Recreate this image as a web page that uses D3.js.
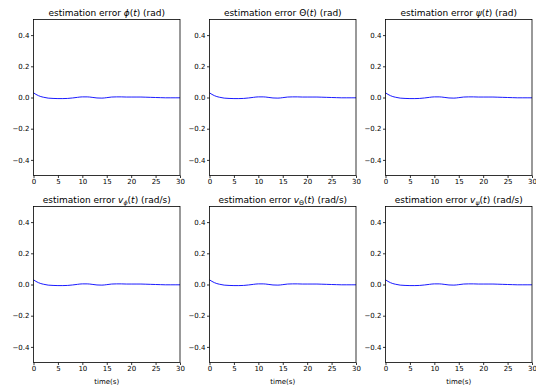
<!DOCTYPE html>
<html>
<head>
<meta charset="utf-8">
<script src="https://cdn.jsdelivr.net/npm/d3@7"></script>
<style>
body { margin: 0; background: #fff; }
text { font-family: "DejaVu Sans", sans-serif; fill: #000; }
</style>
</head>
<body>
<div id="chart"></div>
<script>
var svgWidth = 536;
var svgHeight = 388;

// sample times (s) and the estimation error
var times = [0, 0.5, 1, 1.5, 2, 3, 4, 5, 6, 7, 8, 9, 10, 11, 12, 13, 14, 15, 16, 17, 18, 19, 20, 21, 22, 23, 24, 25, 26, 27, 28, 29, 30];
var errPhi   = [0.030, 0.020, 0.012, 0.006, 0.002, -0.004, -0.006, -0.007, -0.007, -0.006, -0.003, 0.001, 0.004, 0.004, 0.001, -0.003, -0.004, -0.001, 0.003, 0.004, 0.004, 0.003, 0.003, 0.003, 0.003, 0.002, 0.001, 0.000, -0.001, -0.002, -0.002, -0.002, -0.002];
var errTheta = [0.030, 0.020, 0.012, 0.006, 0.002, -0.004, -0.006, -0.007, -0.007, -0.006, -0.003, 0.001, 0.004, 0.004, 0.001, -0.003, -0.004, -0.001, 0.003, 0.004, 0.004, 0.003, 0.003, 0.003, 0.003, 0.002, 0.001, 0.000, -0.001, -0.002, -0.002, -0.002, -0.002];
var errPsi   = [0.030, 0.020, 0.012, 0.006, 0.002, -0.004, -0.006, -0.007, -0.007, -0.006, -0.003, 0.001, 0.004, 0.004, 0.001, -0.003, -0.004, -0.001, 0.003, 0.004, 0.004, 0.003, 0.003, 0.003, 0.003, 0.002, 0.001, 0.000, -0.001, -0.002, -0.002, -0.002, -0.002];
var errVPhi   = [0.030, 0.020, 0.012, 0.006, 0.002, -0.004, -0.006, -0.007, -0.007, -0.006, -0.003, 0.001, 0.004, 0.004, 0.001, -0.003, -0.004, -0.001, 0.003, 0.004, 0.004, 0.003, 0.003, 0.003, 0.003, 0.002, 0.001, 0.000, -0.001, -0.002, -0.002, -0.002, -0.002];
var errVTheta = [0.030, 0.020, 0.012, 0.006, 0.002, -0.004, -0.006, -0.007, -0.007, -0.006, -0.003, 0.001, 0.004, 0.004, 0.001, -0.003, -0.004, -0.001, 0.003, 0.004, 0.004, 0.003, 0.003, 0.003, 0.003, 0.002, 0.001, 0.000, -0.001, -0.002, -0.002, -0.002, -0.002];
var errVPsi   = [0.030, 0.020, 0.012, 0.006, 0.002, -0.004, -0.006, -0.007, -0.007, -0.006, -0.003, 0.001, 0.004, 0.004, 0.001, -0.003, -0.004, -0.001, 0.003, 0.004, 0.004, 0.003, 0.003, 0.003, 0.003, 0.002, 0.001, 0.000, -0.001, -0.002, -0.002, -0.002, -0.002];

var xTicks = [0, 5, 10, 15, 20, 25, 30];
var yTicks = [-0.4, -0.2, 0.0, 0.2, 0.4];

// title parts: [text, italic, subscript]
var panels = [
    { values: errPhi,   title: [["estimation error ", 0, 0], ["ϕ", 1, 0], ["(", 0, 0], ["t", 1, 0], [") (rad)", 0, 0]] },
    { values: errTheta, title: [["estimation error Θ(", 0, 0], ["t", 1, 0], [") (rad)", 0, 0]] },
    { values: errPsi,   title: [["estimation error ", 0, 0], ["ψ", 1, 0], ["(", 0, 0], ["t", 1, 0], [") (rad)", 0, 0]] },
    { values: errVPhi,   title: [["estimation error ", 0, 0], ["v", 1, 0], ["ϕ", 1, 1], ["(", 0, 0], ["t", 1, 0], [") (rad/s)", 0, 0]] },
    { values: errVTheta, title: [["estimation error ", 0, 0], ["v", 1, 0], ["Θ", 0, 1], ["(", 0, 0], ["t", 1, 0], [") (rad/s)", 0, 0]] },
    { values: errVPsi,   title: [["estimation error ", 0, 0], ["v", 1, 0], ["ψ", 1, 1], ["(", 0, 0], ["t", 1, 0], [") (rad/s)", 0, 0]] }
];

var colLeft = [33.5, 209.5, 385.5];
var rowTop = [19.5, 206.5];
var plotW = 146.5;
var plotH = 156;

var svg = d3.select("#chart")
    .append("svg")
    .attr("width", svgWidth)
    .attr("height", svgHeight);

var fmt = function(d) { return d3.format(".1f")(d).replace("-", "\u2212"); };

panels.forEach(function(p, i) {
    var col = i % 3, row = Math.floor(i / 3);
    var g = svg.append("g").attr("transform", `translate(${colLeft[col]}, ${rowTop[row]})`);

    var x = d3.scaleLinear().domain([0, 30]).range([0, plotW]);
    var y = d3.scaleLinear().domain([-0.5, 0.5]).range([plotH, 0]);

    var line = d3.line()
        .x(function(d, j) { return x(times[j]); })
        .y(function(d) { return y(d); })
        .curve(d3.curveMonotoneX);

    g.append("path")
        .datum(p.values)
        .attr("d", line)
        .attr("fill", "none")
        .attr("stroke", "#0000ff")
        .attr("stroke-width", 0.9);

    var xAxis = g.append("g").attr("transform", `translate(0, ${plotH})`)
        .call(d3.axisBottom(x).tickValues(xTicks).tickSize(2.5).tickPadding(1.5).tickFormat(d3.format("d")));
    var yAxis = g.append("g")
        .call(d3.axisLeft(y).tickValues(yTicks).tickSize(2.5).tickPadding(1.5).tickFormat(fmt));

    [xAxis, yAxis].forEach(function(a) {
        a.select(".domain").remove();
        a.selectAll("line").attr("stroke", "#000").attr("stroke-width", 0.8);
        a.selectAll("text").attr("font-size", 7).attr("font-family", "DejaVu Sans").attr("fill", "#000");
    });

    // spines
    g.append("rect")
        .attr("x", 0).attr("y", 0)
        .attr("width", plotW).attr("height", plotH)
        .attr("fill", "none")
        .attr("stroke", "#000")
        .attr("stroke-width", 0.8);

    var t = g.append("text")
        .attr("x", plotW / 2)
        .attr("y", -4)
        .attr("text-anchor", "middle")
        .attr("font-size", 9);
    p.title.forEach(function(part) {
        var ts = t.append("tspan").text(part[0]);
        if (part[1]) ts.attr("font-style", "italic");
        if (part[2]) ts.attr("font-size", 6.3).attr("baseline-shift", "-25%");
    });

    if (row === 1) {
        g.append("text")
            .attr("x", plotW / 2)
            .attr("y", plotH + 21)
            .attr("text-anchor", "middle")
            .attr("font-size", 7)
            .text("time(s)");
    }
});
</script>
</body>
</html>
